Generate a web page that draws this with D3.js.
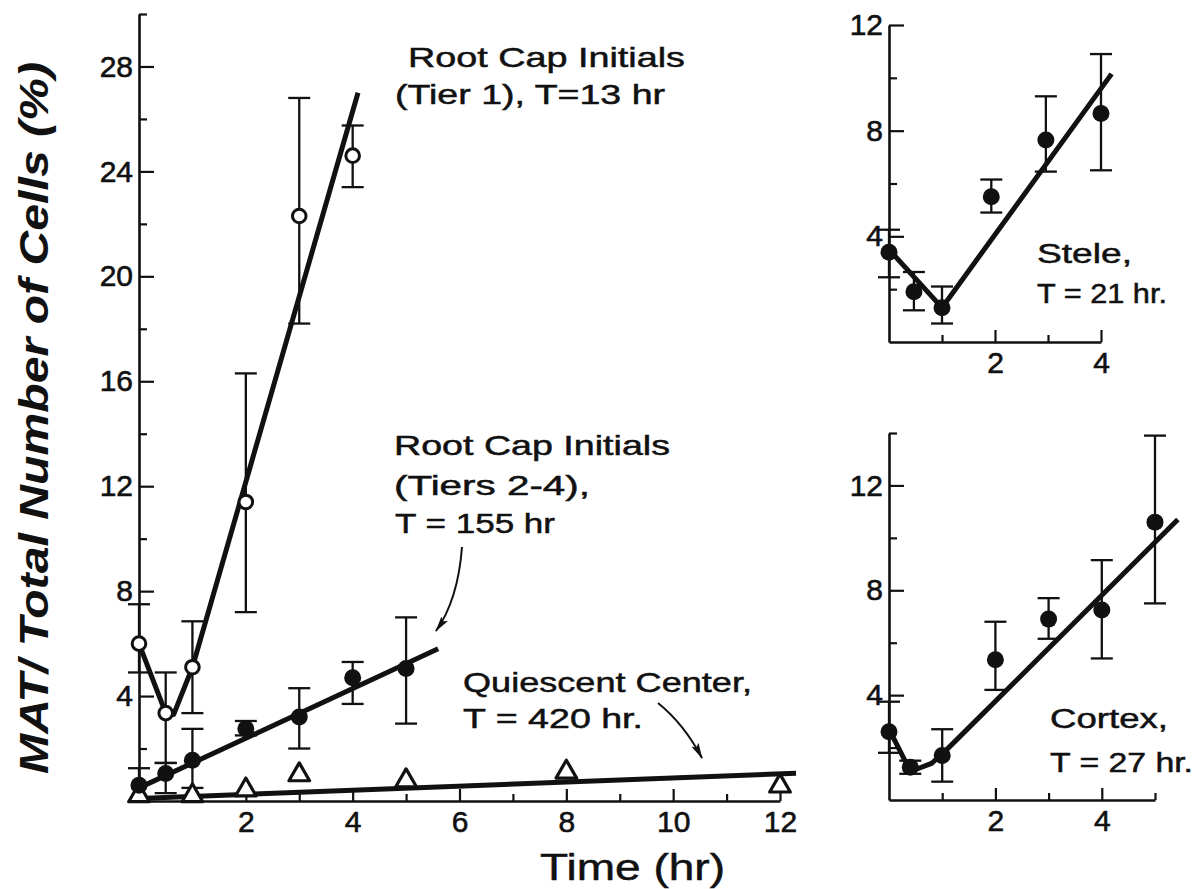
<!DOCTYPE html>
<html>
<head>
<meta charset="utf-8">
<script src="https://cdn.jsdelivr.net/npm/d3@7"></script>
<style>
  body { margin: 0; background: #fff; }
  svg { display: block; font-family: "Liberation Sans", Arial, sans-serif; }
  .domain { stroke: #111; stroke-width: 2.6; }
  .tick line { stroke: #111; stroke-width: 2.2; }
  .tick text { font-size: 30px; fill: #111; stroke: #111; stroke-width: 0.6; }
  .note { fill: #111; stroke: #111; stroke-width: 0.5; }
</style>
</head>
<body>
<svg id="chart" width="1195" height="889"></svg>
<script>
// main panel: root cap initials tier 1 (open circles)
var tier1Data = [
    {t: 0,   v: 6.0,  lo: 4.9,  hi: 7.5},
    {t: 0.5, v: 3.35, lo: 1.45, hi: 4.9},
    {t: 1,   v: 5.1,  lo: 3.35, hi: 6.85},
    {t: 2,   v: 11.4, lo: 7.2,  hi: 16.3},
    {t: 3,   v: 22.3, lo: 18.2, hi: 26.8},
    {t: 4,   v: 24.6, lo: 23.4, hi: 25.75}
];
var tier1Fit = [[0, 6.0], [0.5, 3.35], [0.65, 3.3], [1, 5.1], [4.1, 27.0]];

// tiers 2-4 (filled circles)
var tier24Data = [
    {t: 0,   v: 0.6,  lo: 0,    hi: 1.25},
    {t: 0.5, v: 1.05, lo: 0.3,  hi: 1.45},
    {t: 1,   v: 1.55, lo: 0.5,  hi: 2.75},
    {t: 2,   v: 2.75, lo: 2.5,  hi: 3.05},
    {t: 3,   v: 3.2,  lo: 2.0,  hi: 4.3},
    {t: 4,   v: 4.7,  lo: 3.7,  hi: 5.3},
    {t: 5,   v: 5.05, lo: 2.95, hi: 7.0}
];
var tier24Fit = [[0, 0.5], [5.6, 5.8]];

// quiescent center (triangles)
var quiescentData = [
    {t: 0, v: 0.2}, {t: 1, v: 0.2}, {t: 2, v: 0.42}, {t: 3, v: 1.0},
    {t: 5, v: 0.77}, {t: 8, v: 1.1}, {t: 12, v: 0.57}
];
var quiescentFit = [[0, 0.1], [12.3, 1.06]];

// stele
var steleData = [
    {t: 0,    v: 3.4,  lo: 2.45, hi: 4.25},
    {t: 0.47, v: 1.9,  lo: 1.2,  hi: 2.65},
    {t: 1,    v: 1.3,  lo: 0.7,  hi: 2.1},
    {t: 1.93, v: 5.5,  lo: 4.9,  hi: 6.15},
    {t: 2.96, v: 7.65, lo: 6.45, hi: 9.3},
    {t: 4,    v: 8.65, lo: 6.5,  hi: 10.9}
];
var steleFit = [[0, 3.5], [1, 1.3], [4.2, 10.15]];

// cortex
var cortexData = [
    {t: 0,   v: 2.6,  lo: 1.8,  hi: 3.75},
    {t: 0.4, v: 1.25, lo: 1.0,  hi: 1.5},
    {t: 1,   v: 1.7,  lo: 0.7,  hi: 2.7},
    {t: 2,   v: 5.35, lo: 4.2,  hi: 6.8},
    {t: 3,   v: 6.9,  lo: 6.15, hi: 7.7},
    {t: 4,   v: 7.25, lo: 5.4,  hi: 9.15},
    {t: 5,   v: 10.6, lo: 7.5,  hi: 13.9}
];
var cortexFit = [[0, 2.7], [0.35, 1.3], [0.55, 1.2], [0.8, 1.4], [1, 1.75], [5.43, 10.7]];

// tick values
var mainXMajor = [2, 4, 6, 8, 10, 12], mainXMinor = [1, 3, 5, 7, 9, 11];
var mainYMajor = [4, 8, 12, 16, 20, 24, 28], mainYMinor = [2, 6, 10, 14, 18, 22, 26, 30];
var steleXMajor = [2, 4], steleXMinor = [1, 3];
var steleYMajor = [4, 8, 12], steleYMinor = [2, 6, 10];
var cortexXMajor = [2, 4], cortexXMinor = [1, 3, 5];
var cortexYMajor = [4, 8, 12], cortexYMinor = [2, 6, 10, 14];

var svg = d3.select("#chart");

svg.append("defs").append("marker")
    .attr("id", "arrow")
    .attr("viewBox", "0 0 16 8")
    .attr("refX", 15)
    .attr("refY", 4)
    .attr("markerWidth", 16)
    .attr("markerHeight", 8)
    .attr("markerUnits", "userSpaceOnUse")
    .attr("orient", "auto")
  .append("path")
    .attr("d", "M0,0 L16,4 L0,8 L3,4 Z")
    .attr("fill", "#111");

/*
 * axes with ticks pointing inward, labelled majors and bare minors
 */
function drawAxes(x, y, xMajor, xMinor, yMajor, yMinor) {
    var y0 = y.range()[0], x0 = x.range()[0];

    svg.append("g")
        .attr("transform", "translate(0," + y0 + ")")
        .call(d3.axisBottom(x).tickValues(xMajor).tickSize(-12)
            .tickSizeOuter(0).tickPadding(10).tickFormat(d3.format("d")));
    svg.append("g")
        .attr("transform", "translate(0," + y0 + ")")
        .call(d3.axisBottom(x).tickValues(xMinor).tickSize(-7).tickFormat(""))
        .select(".domain").remove();

    svg.append("g")
        .attr("transform", "translate(" + x0 + ",0)")
        .call(d3.axisLeft(y).tickValues(yMajor).tickSize(-15)
            .tickSizeOuter(0).tickPadding(6).tickFormat(d3.format("d")));
    svg.append("g")
        .attr("transform", "translate(" + x0 + ",0)")
        .call(d3.axisLeft(y).tickValues(yMinor).tickSize(-8).tickFormat(""))
        .select(".domain").remove();

    svg.selectAll(".tick text").attr("fill", "#111");
}

/*
 * vertical error bars with caps
 */
function drawErrors(data, x, y) {
    var g = svg.append("g").attr("stroke", "#111").attr("stroke-width", 2.3);
    data.forEach(function(d) {
        var cx = x(d.t);
        g.append("line")
            .attr("x1", cx).attr("x2", cx)
            .attr("y1", y(d.lo)).attr("y2", y(d.hi));
        [d.lo, d.hi].forEach(function(v) {
            if (v <= 0) return;
            g.append("line")
                .attr("x1", cx - 11).attr("x2", cx + 11)
                .attr("y1", y(v)).attr("y2", y(v));
        });
    });
}

/*
 * thick fitted line
 */
function drawFit(points, x, y) {
    var line = d3.line()
        .x(function(p) { return x(p[0]); })
        .y(function(p) { return y(p[1]); });
    svg.append("path")
        .attr("d", line(points))
        .attr("fill", "none")
        .attr("stroke", "#111")
        .attr("stroke-width", 5)
        .attr("stroke-linejoin", "round");
}

function drawDots(data, x, y, open) {
    svg.append("g").selectAll("circle")
        .data(data)
        .enter().append("circle")
        .attr("cx", function(d) { return x(d.t); })
        .attr("cy", function(d) { return y(d.v); })
        .attr("r", open ? 6.8 : 8.5)
        .attr("fill", open ? "#fff" : "#111")
        .attr("stroke", "#111")
        .attr("stroke-width", open ? 3 : 0);
}

function drawTriangles(data, x, y) {
    var tri = d3.symbol().type(d3.symbolTriangle).size(185);
    svg.append("g").selectAll("path")
        .data(data)
        .enter().append("path")
        .attr("d", tri)
        .attr("transform", function(d) {
            return "translate(" + x(d.t) + "," + y(d.v) + ")";
        })
        .attr("fill", "#fff")
        .attr("stroke", "#111")
        .attr("stroke-width", 3.2)
        .attr("stroke-linejoin", "round");
}

function drawText(note) {
    svg.append("text")
        .attr("class", "note")
        .attr("x", note.x)
        .attr("y", note.y)
        .attr("font-size", note.size)
        .attr("textLength", note.w)
        .attr("lengthAdjust", "spacingAndGlyphs")
        .text(note.text);
}

// main panel
var mx = d3.scaleLinear().domain([0, 12]).range([139, 780]);
var my = d3.scaleLinear().domain([0, 30]).range([801, 14]);
drawAxes(mx, my, mainXMajor, mainXMinor, mainYMajor, mainYMinor);
drawErrors(tier1Data, mx, my);
drawErrors(tier24Data, mx, my);
drawFit(quiescentFit, mx, my);
drawFit(tier24Fit, mx, my);
drawFit(tier1Fit, mx, my);
drawTriangles(quiescentData, mx, my);
drawDots(tier24Data, mx, my, false);
drawDots(tier1Data, mx, my, true);

// stele panel
var sx = d3.scaleLinear().domain([0, 4]).range([889, 1101]);
var sy = d3.scaleLinear().domain([0, 12]).range([342, 25]);
drawAxes(sx, sy, steleXMajor, steleXMinor, steleYMajor, steleYMinor);
drawErrors(steleData, sx, sy);
drawFit(steleFit, sx, sy);
drawDots(steleData, sx, sy, false);

// cortex panel
var cx = d3.scaleLinear().domain([0, 5]).range([889, 1155]);
var cy = d3.scaleLinear().domain([0, 14]).range([800, 433]);
drawAxes(cx, cy, cortexXMajor, cortexXMinor, cortexYMajor, cortexYMinor);
drawErrors(cortexData, cx, cy);
drawFit(cortexFit, cx, cy);
drawDots(cortexData, cx, cy, false);

// annotations
[
    {text: "Root Cap Initials", x: 408, y: 67, w: 277, size: 28},
    {text: "(Tier 1), T=13 hr", x: 395, y: 104, w: 270, size: 28},
    {text: "Root Cap Initials", x: 394, y: 455, w: 276, size: 28},
    {text: "(Tiers 2-4),", x: 394, y: 495, w: 196, size: 28},
    {text: "T = 155 hr", x: 395, y: 533, w: 160, size: 28},
    {text: "Quiescent Center,", x: 463, y: 692, w: 289, size: 28},
    {text: "T = 420 hr.", x: 463, y: 728, w: 180, size: 28},
    {text: "Stele,", x: 1037, y: 263, w: 95, size: 27},
    {text: "T = 21 hr.", x: 1037, y: 303, w: 130, size: 27},
    {text: "Cortex,", x: 1050, y: 728, w: 118, size: 27},
    {text: "T = 27 hr.", x: 1050, y: 772, w: 143, size: 27},
    {text: "Time (hr)", x: 540, y: 880, w: 185, size: 37}
].forEach(drawText);

svg.append("text")
    .attr("transform", "translate(48,418) rotate(-90)")
    .attr("text-anchor", "middle")
    .attr("font-size", 40)
    .attr("font-weight", "bold")
    .attr("font-style", "italic")
    .attr("textLength", 712)
    .attr("lengthAdjust", "spacingAndGlyphs")
    .attr("fill", "#111")
    .text("MAT/ Total Number of Cells (%)");

// pointer arrows
svg.append("path")
    .attr("d", "M462,547 Q458,600 436,631")
    .attr("fill", "none")
    .attr("stroke", "#111")
    .attr("stroke-width", 2)
    .attr("marker-end", "url(#arrow)");
svg.append("path")
    .attr("d", "M658,703 Q684,724 702,758")
    .attr("fill", "none")
    .attr("stroke", "#111")
    .attr("stroke-width", 2)
    .attr("marker-end", "url(#arrow)");
</script>
</body>
</html>
